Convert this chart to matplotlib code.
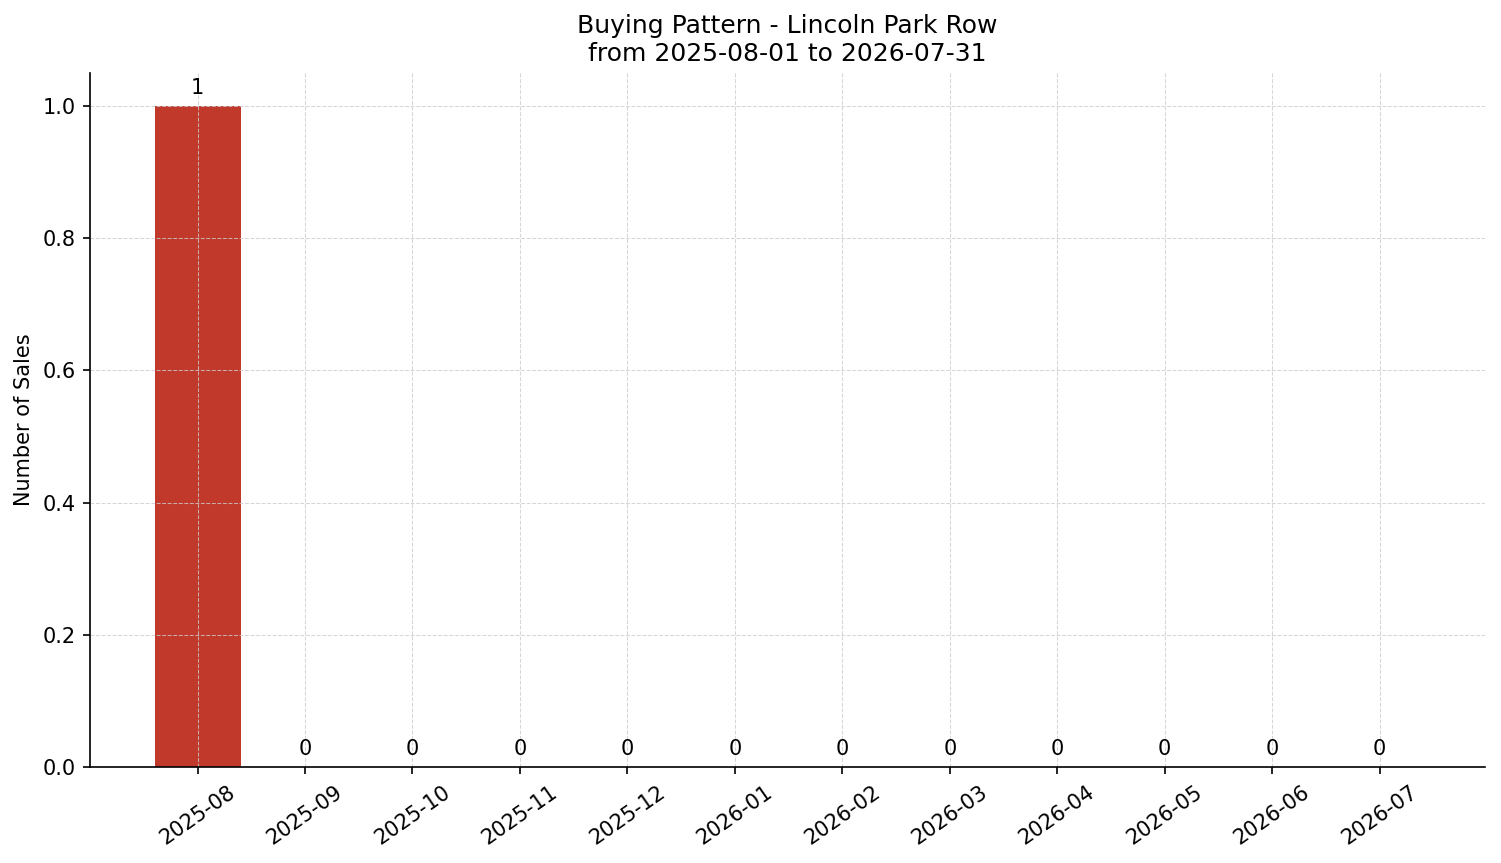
import matplotlib
matplotlib.use("Agg")
import matplotlib.pyplot as plt
import numpy as np

months = ["2025-08", "2025-09", "2025-10", "2025-11", "2025-12", "2026-01",
          "2026-02", "2026-03", "2026-04", "2026-05", "2026-06", "2026-07"]
sales = [1, 0, 0, 0, 0, 0, 0, 0, 0, 0, 0, 0]

DPI = 150
fig, ax = plt.subplots(figsize=(1501 / DPI, 863 / DPI), dpi=DPI)
x = np.arange(len(months))
ax.bar(x, sales, width=0.8, color="#c0392b")
for xi, v in zip(x, sales):
    ax.annotate(f"{v}", (xi, v), xytext=(0, 4), textcoords="offset points",
                ha="center", va="bottom", fontsize=10)

ax.set_xticks(x)
ax.set_xticklabels(months, rotation=35, ha="center", fontsize=10)
ax.tick_params(axis="y", labelsize=10)
ax.set_ylabel("Number of Sales", fontsize=10)
ax.set_title("Buying Pattern - Lincoln Park Row\nfrom 2025-08-01 to 2026-07-31", fontsize=12)
ax.set_xlim(-1.0, 11.98)
ax.set_ylim(0, 1.05)
ax.grid(True, linestyle="--", color="#cccccc", alpha=0.8, linewidth=0.5)
ax.spines["top"].set_visible(False)
ax.spines["right"].set_visible(False)
fig.subplots_adjust(left=0.06, right=0.9893, top=0.9154, bottom=0.1112)
fig.savefig("out.png", dpi=DPI)
